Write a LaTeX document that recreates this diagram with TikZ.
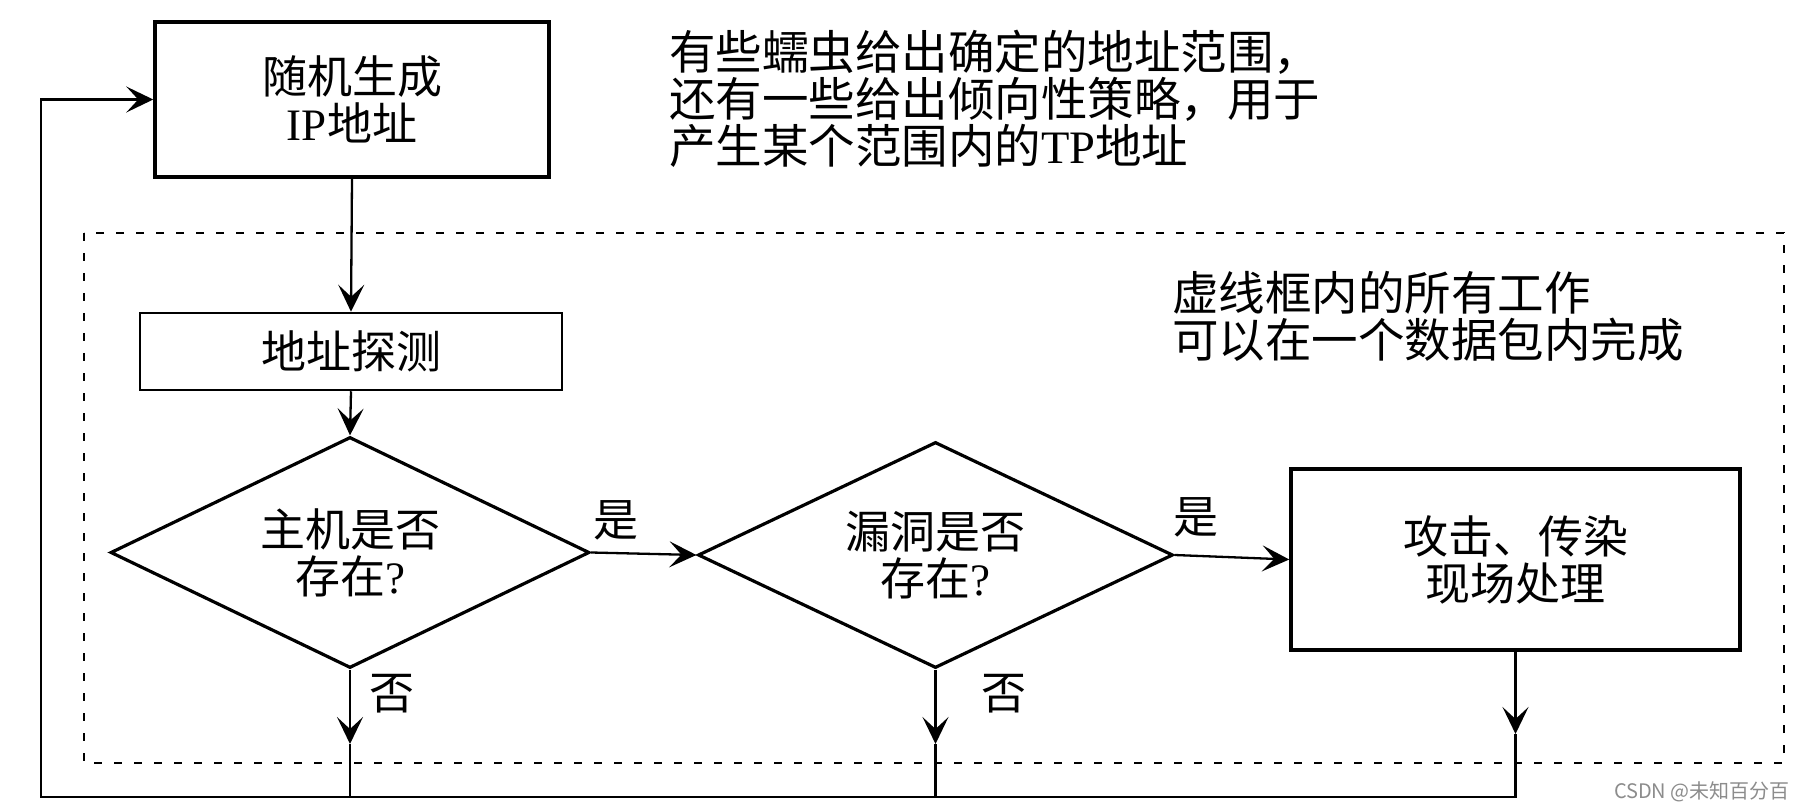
\documentclass[tikz,border=0pt]{standalone}
\usepackage{fontspec}
\setmainfont{Noto Sans CJK SC}
\newfontfamily\latin{Liberation Serif}
\newfontfamily\wmfont{Noto Sans CJK SC}
\usetikzlibrary{shapes.geometric,arrows.meta}

\tikzset{
  big/.style={font=\fontsize{45pt}{47pt}\selectfont},
  thickbox/.style={draw, line width=3.5pt, inner sep=0pt, align=center, big},
  thinbox/.style={draw, line width=2.5pt, inner sep=0pt, align=center, big},
  decision/.style={draw, diamond, aspect=2, line width=3.2pt, inner sep=0pt, align=center, big},
  conn/.style={line width=2.3pt},
  arr/.style={-{Stealth[length=27pt,width=26pt,inset=12pt]}},
  lbl/.style={big, inner sep=0pt},
  note/.style={align=left, inner sep=0pt, font=\fontsize{46.5pt}{47pt}\selectfont},
  frame/.style={line width=2pt, dash pattern=on 8pt off 12pt},
}

\begin{document}
\begin{tikzpicture}[x=1pt, y=-1pt]
\useasboundingbox[fill=white] (0,0) rectangle (1805,810);

% packet frame
\draw[frame] (84,233) rectangle (1784,763);

% process steps
\node[thickbox, minimum width=394pt, minimum height=155pt] (gen) at (352,99.5)
  {随机生成\\{\latin IP}地址};
\node[thinbox, minimum width=422pt, minimum height=77pt] (probe) at (351,351.5)
  {地址探测};
\node[decision, minimum width=479pt, minimum height=231pt] (host) at (350,552.5)
  {主机是否\\存在{\latin ?}};
\node[decision, minimum width=475pt, minimum height=226pt] (vuln) at (935.5,555)
  {漏洞是否\\存在{\latin ?}};
\node[thickbox, minimum width=449pt, minimum height=181pt] (attack) at (1515.5,559.5)
  {攻击、传染\\现场处理};

% annotations
\node[note, anchor=west] (strategy) at (669,99)
  {有些蠕虫给出确定的地址范围，\\还有一些给出倾向性策略，用于\\产生某个范围内的{\latin TP}地址};
\node[note, anchor=west] (frametext) at (1172,316.5)
  {虚线框内的所有工作\\可以在一个数据包内完成};

% branch labels
\node[lbl] (yes1) at (616,520) {是};
\node[lbl] (yes2) at (1196,517) {是};
\node[lbl] (no1) at (392,694) {否};
\node[lbl] (no2) at (1004,694) {否};

% forward flow
\draw[conn, arr] (gen.south) -- (probe.north);
\draw[conn, arr] (probe.south) -- (host.north);
\draw[conn, arr] (host.east) -- (vuln.west);
\draw[conn, arr] (vuln.east) -- (attack.west);

% return paths to the generator
\coordinate (m1) at (350,744);
\coordinate (m2) at (935.5,744);
\coordinate (m3) at (1515.5,734);
\coordinate (b1) at (350,797);
\coordinate (b2) at (935.5,797);
\coordinate (b3) at (1515.5,797);
\coordinate (lb) at (41,797);
\coordinate (lt) at (41,99.5);
\draw[conn, arr] (host.south) -- (m1);
\draw[conn, arr] (vuln.south) -- (m2);
\draw[conn, arr] (attack.south) -- (m3);
\draw[conn] (m1) -- (b1);
\draw[conn] (m2) -- (b2);
\draw[conn, arr] (m3) -- (b3) -- (lb) -- (lt) -- (gen.west);

% watermark
\node[anchor=east, inner sep=0pt, text=black!45, font=\wmfont\fontsize{20pt}{22pt}\selectfont] (wm) at (1790,792) {CSDN @未知百分百};
\end{tikzpicture}
\end{document}
